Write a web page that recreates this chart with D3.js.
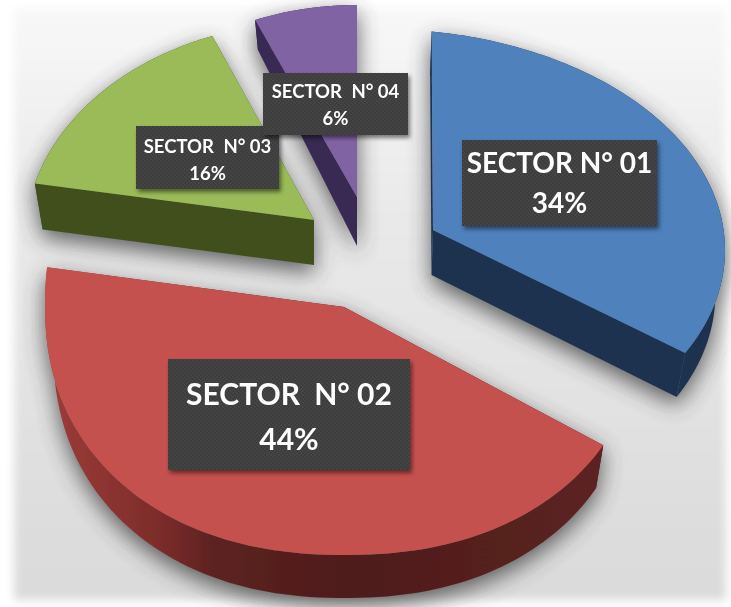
<!DOCTYPE html>
<html>
<head>
<meta charset="utf-8">
<style>html,body{margin:0;padding:0;background:#fff}svg{display:block}</style>
<script src="https://cdn.jsdelivr.net/npm/d3@7"></script>
</head>
<body>
<svg id="c" width="731" height="607"></svg>
<script>
const categories = ["SECTOR N° 01", "SECTOR N° 02", "SECTOR N° 03", "SECTOR N° 04"];
const values = [34, 44, 16, 6];
const faceColors = ["#4f81bd", "#c5514f", "#9bbb59", "#8064a2"];
const sideColors = ["#1e3350", "url(#redSide)", "#3f4f1e", "#382a52"];

// Perspective layout of each exploded slice (rim curve, visible sweep, apex, depth)
const layout = [
  {ex:380, ey:250, rx:345, ry:221, p:2, t0:8.6, t1:117.8, ax:433, ay:230, dRim:44, dApex:45},
  {ex:345, ey:305, rx:300, ry:250, p:2.2, t0:122, t1:277.2, ax:344, ay:307, dRim:43, dApex:43},
  {ex:314, ey:240, rx:289, ry:218, p:2, t0:285, t1:339.4, ax:314, ay:220, dRim:46, dApex:45},
  {ex:357, ey:197, rx:263, ry:192, p:2, t0:337.2, t1:360, ax:357, ay:197, dRim:30, dApex:49}
];
const labelBoxes = [
  {x:462, y:140, w:195, h:86, size:28, gap:0, b1:173, b2:213},
  {x:168, y:359, w:242, h:111, size:30, gap:7, b1:405, b2:450},
  {x:136, y:126, w:143, h:63, size:18.5, gap:5, b1:153, b2:180},
  {x:263, y:73, w:145, h:62, size:18.5, gap:5, b1:98, b2:125}
];
const BOTTOM_SCALE = 0.972;
const drawOrder = [3, 2, 0, 1];

const svg = d3.select("#c");
const defs = svg.append("defs");
const blur = (id, s) => defs.append("filter").attr("id", id)
  .attr("x", "-30%").attr("y", "-30%").attr("width", "160%").attr("height", "160%")
  .append("feGaussianBlur").attr("stdDeviation", s);
blur("bgBlur", 5); blur("shadowBlur", 11); blur("boxBlur", 2); blur("soft", 0.4);

const addStops = (grad, stops) => stops.forEach(([o, c]) =>
  grad.append("stop").attr("offset", o).attr("stop-color", c));
addStops(defs.append("linearGradient").attr("id", "redSide")
  .attr("gradientUnits", "userSpaceOnUse").attr("x1", 50).attr("x2", 600).attr("y1", 0).attr("y2", 0),
  [[0, "#9c3c39"], [0.2, "#7c2c2a"], [0.3, "#5c2221"], [0.55, "#4f1c1b"], [1, "#5c2321"]]);
addStops(defs.append("linearGradient").attr("id", "bgGrad").attr("x1", 0).attr("x2", 0).attr("y1", 0).attr("y2", 1),
  [[0, "#f8f8f8"], [0.35, "#e9e9e9"], [1, "#dadada"]]);

const pat = defs.append("pattern").attr("id", "dots").attr("width", 4).attr("height", 4)
  .attr("patternUnits", "userSpaceOnUse");
pat.append("rect").attr("width", 4).attr("height", 4).attr("fill", "#3d3d3d");
pat.append("circle").attr("cx", 1).attr("cy", 1).attr("r", 0.9).attr("fill", "#474747");
pat.append("circle").attr("cx", 3).attr("cy", 3).attr("r", 0.9).attr("fill", "#474747");

const pie = d3.pie().sort(null).value(d => d)(values);
const rad = Math.PI / 180;
const toPath = d3.line().x(d => d[0]).y(d => d[1]);
const spow = (x, e) => Math.sign(x) * Math.pow(Math.abs(x), e);

const slices = pie.map((arc, i) => {
  const L = layout[i];
  const angle = d3.scaleLinear().domain([arc.startAngle, arc.endAngle]).range([L.t0 * rad, L.t1 * rad]);
  const rim = d3.range(0, 1.0001, 1 / 100).map(f => {
    const t = angle(arc.startAngle + f * (arc.endAngle - arc.startAngle));
    return [L.ex + L.rx * spow(Math.sin(t), 2 / L.p), L.ey - L.ry * spow(Math.cos(t), 2 / L.p)];
  });
  const drop = (p, d) => [L.ex + (p[0] - L.ex) * BOTTOM_SCALE, p[1] + d];
  const apex = [L.ax, L.ay];
  const lowRim = rim.map(p => drop(p, L.dRim));
  const lowApex = drop(apex, L.dApex);
  return {i, face: [apex, ...rim],
    sides: [
      [apex, rim[0], lowRim[0], lowApex],
      [apex, rim[rim.length - 1], lowRim[lowRim.length - 1], lowApex],
      [...rim, ...lowRim.slice().reverse()]
    ]};
});

// background
svg.append("rect").attr("width", 731).attr("height", 607).attr("fill", "#fff");
svg.append("rect").attr("x", 14).attr("y", 8).attr("width", 712).attr("height", 592)
  .attr("fill", "url(#bgGrad)").attr("filter", "url(#bgBlur)");

// soft shadows
const shadow = svg.append("g").attr("filter", "url(#shadowBlur)").attr("opacity", 0.8);
slices.forEach(s => {
  s.sides.concat([s.face]).forEach(poly => shadow.append("path")
    .attr("d", toPath(poly) + "Z").attr("fill", "#3a3a3a")
    .attr("transform", "translate(0,8)"));
});

// slices
const g = svg.append("g").attr("filter", "url(#soft)");
drawOrder.forEach(i => {
  const s = slices[i];
  s.sides.forEach(poly => g.append("path").attr("d", toPath(poly) + "Z")
    .attr("fill", sideColors[i]));
  g.append("path").attr("d", toPath(s.face) + "Z").attr("fill", faceColors[i]);
});

// labels
categories.forEach((name, i) => {
  const b = labelBoxes[i];
  svg.append("rect").attr("x", b.x + 2).attr("y", b.y + 3).attr("width", b.w).attr("height", b.h)
    .attr("fill", "#000").attr("opacity", 0.5).attr("filter", "url(#boxBlur)");
  svg.append("rect").attr("x", b.x).attr("y", b.y).attr("width", b.w).attr("height", b.h)
    .attr("fill", "url(#dots)");
  const cx = b.x + b.w / 2;
  const txt = svg.append("g").attr("font-family", "Lato, 'Open Sans', sans-serif").attr("font-weight", 700)
    .attr("font-size", b.size).attr("fill", "#fff").attr("text-anchor", "middle").attr("filter", "url(#soft)");
  const [first, ...rest] = name.split(" ");
  const line = txt.append("text").attr("x", cx).attr("y", b.b1);
  line.append("tspan").text(first + " ");
  line.append("tspan").attr("dx", b.gap).text(rest.join(" "));
  txt.append("text").attr("x", cx).attr("y", b.b2).text(values[i] + "%");
});
</script>
</body>
</html>
